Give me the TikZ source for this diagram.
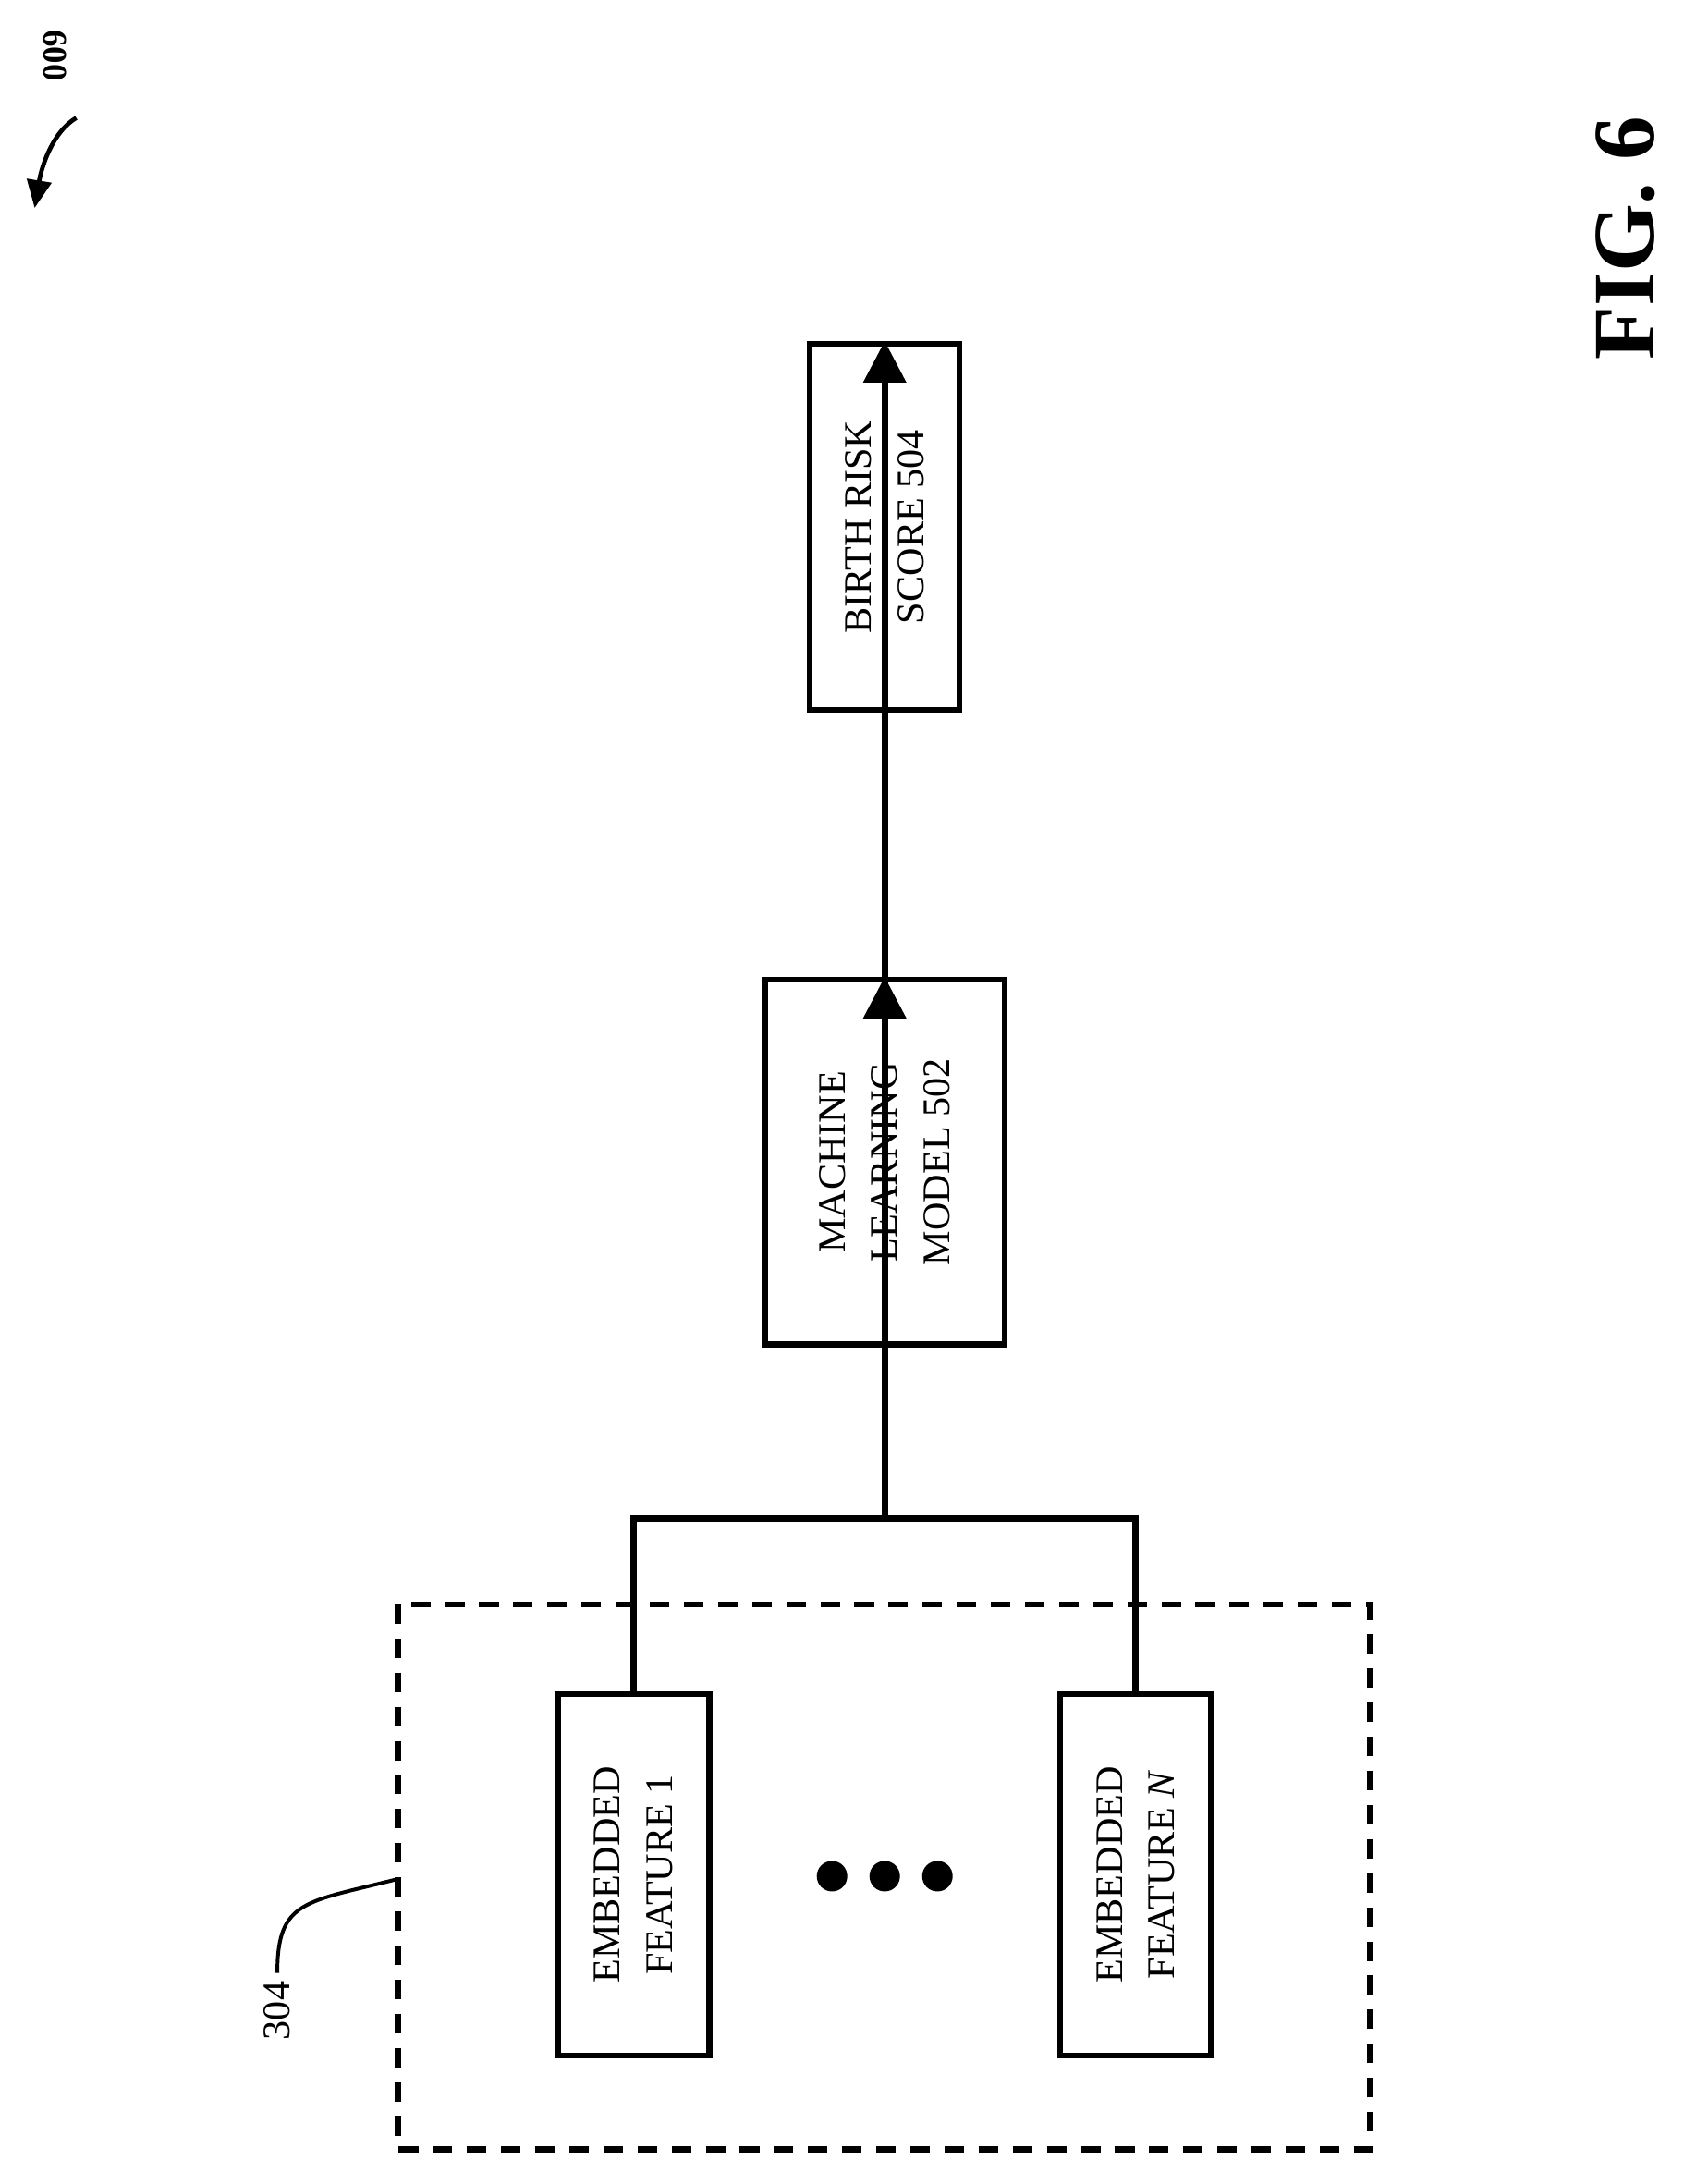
\documentclass[tikz,border=0pt]{standalone}
\usepackage{fontspec}
\setmainfont{Liberation Serif}
\usetikzlibrary{positioning, arrows.meta}
\tikzset{block/.style={draw,line width=2.4pt,rotate=90,align=center,inner sep=0pt,
                       font=\fontsize{16}{21.5}\selectfont},
         flow/.style={line width=2.8pt,-{Triangle[length=6mm,width=6mm]}},
         link/.style={line width=2.8pt},
        }
\begin{document}
\begin{tikzpicture}[x=0.02cm,y=-0.02cm]
        \useasboundingbox (0,0) rectangle (1214,1575);

        \node[block, minimum width=5.28cm, minimum height=2.16cm](brs)at(638,380){BIRTH RISK\\SCORE 504};
        \node[block, minimum width=5.26cm, minimum height=3.46cm](mlm)at(638,838){MACHINE\\LEARNING\\MODEL 502};
        \node[block, minimum width=5.22cm, minimum height=2.18cm](ef1)at(457,1352){EMBEDDED\\FEATURE 1};
        \node[block, minimum width=5.22cm, minimum height=2.18cm](efn)at(819,1352){EMBEDDED\\FEATURE \textit{N}};
        \coordinate(jn)at(638,1095);

        \draw[flow](mlm.west)--(brs.east);
        \draw[flow](jn)--(mlm.east);
        \draw[link](ef1.east)--(ef1.east|-jn)--(efn.east|-jn)--(efn.east);

        \foreach \x in {600,638,676}
            \fill(\x,1353)circle(11);

        \draw[line width=2.4pt,dash pattern=on 8pt off 6pt](287,1157)rectangle(988,1550);
        \coordinate(dbx)at(287,1355);
        \node[rotate=90,font=\fontsize{16}{19}\selectfont](l304)at(200,1450){304};
        \draw[line width=1.5pt](l304.east) .. controls (200,1370) and (220,1372) .. (dbx);

        \node[rotate=-90,font=\bfseries\fontsize{14}{16}\selectfont](l600)at(40,40){600};
        \draw[line width=1.8pt,-{Triangle[length=4mm,width=3.5mm]}](55,85) .. controls (38,95) and (30,120) .. (25,150);

        \node[rotate=90,font=\bfseries\fontsize{36}{40}\selectfont](fig)at(1172,172){FIG. 6};
\end{tikzpicture}
\end{document}
